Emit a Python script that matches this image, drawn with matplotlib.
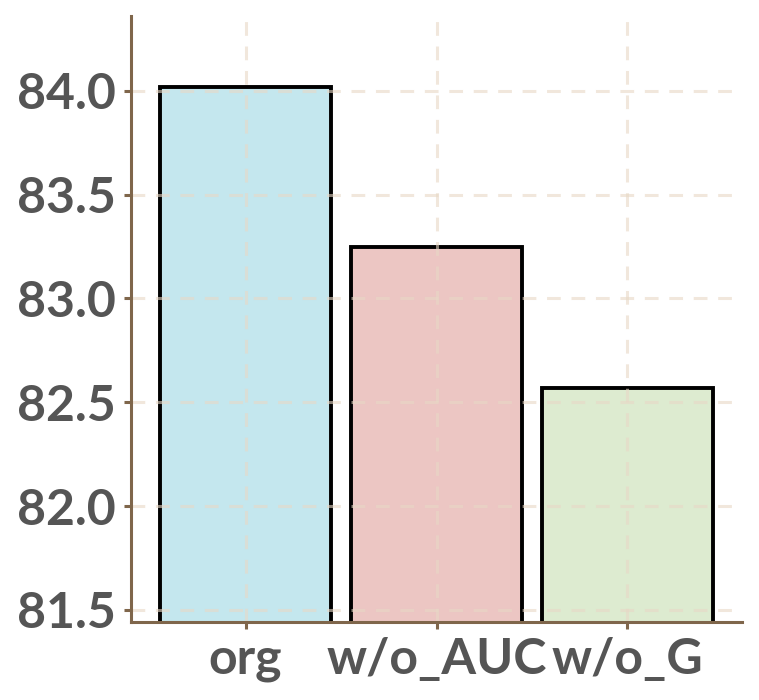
import numpy as np
import matplotlib
matplotlib.use("Agg")
import matplotlib.pyplot as plt

# data
categories = ["org", "w/o_AUC", "w/o_G"]
scores = [84.02, 83.25, 82.57]
bar_colors = ["#C4E7EE", "#ECC6C3", "#DDEBD0"]
y_ticks = [81.5, 82.0, 82.5, 83.0, 83.5, 84.0]

spine_col = "#7F664B"
text_col = "#555555"
grid_col = "#E8D8C6"

plt.rcParams['font.family'] = ['Lato', 'DejaVu Sans']

fig = plt.figure(figsize=(7.59, 7.00), dpi=100)
ax = fig.add_axes([131 / 759, 1 - 622 / 700, (742 - 131) / 759, (622 - 16) / 700])

x = np.arange(len(categories))
ax.bar(x, scores, width=0.9, color=bar_colors, edgecolor="black", linewidth=2.8, zorder=2)

ax.set_xlim(-0.6, 2.6)
ax.set_ylim(81.442, 84.36)
ax.set_xticks(x)
ax.set_xticklabels(categories)
ax.set_yticks(y_ticks)
ax.set_yticklabels(["{:.1f}".format(v) for v in y_ticks])

ax.grid(True, color=grid_col, linestyle=(0, (4.5, 3.5)), linewidth=2.2, zorder=3, alpha=0.6)
ax.set_axisbelow(False)

for s in ["top", "right"]:
    ax.spines[s].set_visible(False)
for s in ["left", "bottom"]:
    ax.spines[s].set_color(spine_col)
    ax.spines[s].set_linewidth(2.2)
    ax.spines[s].set_zorder(4)

ax.tick_params(axis="both", colors=spine_col, length=5, width=2.2, labelcolor=text_col,
               labelsize=36, pad=6)
for lab in ax.get_xticklabels() + ax.get_yticklabels():
    lab.set_fontweight("bold")

fig.savefig("out.png", dpi=100)
